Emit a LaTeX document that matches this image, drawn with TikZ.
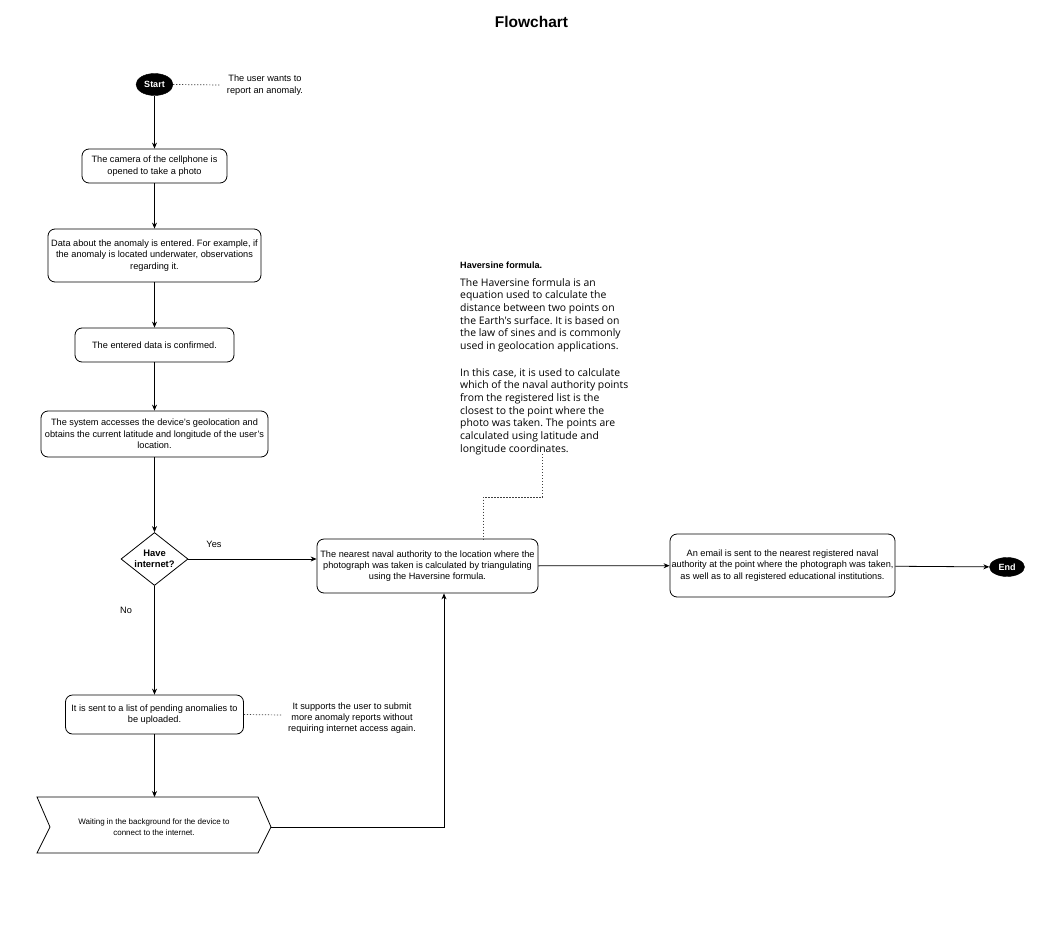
\documentclass[tikz,border=0pt]{standalone}
\usepackage{fontspec}
\setmainfont{Liberation Sans}
\newfontfamily\osans{Open Sans}
\usetikzlibrary{shapes.geometric,arrows.meta,calc}
\frenchspacing
\begin{document}
\begin{tikzpicture}[x=1pt,y=-1pt,
 font=\fontsize{9.2}{11.3}\selectfont,
 proc/.style={draw,rounded corners=7pt,line width=0.8pt,align=center,inner sep=0pt},
 term/.style={ellipse,fill=black,draw=black,text=white,font=\fontsize{9}{10}\selectfont\bfseries,inner sep=0pt},
 dec/.style={diamond,draw,line width=0.8pt,inner sep=0pt},
 note/.style={align=center,inner sep=0pt},
 flow/.style={line width=0.8pt,-{Stealth[length=6pt,width=5pt]}},
 dots/.style={line width=0.7pt,black!75,dash pattern=on 1.2pt off 1.8pt},
]
\useasboundingbox[fill=white] (0,0) rectangle (1064,944);
\node[font=\fontsize{15.5}{18}\selectfont\bfseries] (title) at (531.5,22) {Flowchart};

\node[term,minimum width=37pt,minimum height=22pt] (start) at (154.5,84.5) {Start};
\node[note] (n1) at (265,85) {The user wants to\\report an anomaly.};

\node[proc,minimum width=145pt,minimum height=34pt] (b1) at (154.5,166) {The camera of the cellphone is\\opened to take a photo};
\node[proc,minimum width=213pt,minimum height=53pt] (b2) at (154.5,255.5) {Data about the anomaly is entered. For example, if\\the anomaly is located underwater, observations\\regarding it.};
\node[proc,minimum width=159pt,minimum height=34pt] (b3) at (154.5,345) {The entered data is confirmed.};
\node[proc,minimum width=227pt,minimum height=46pt] (b4) at (154.5,434) {The system accesses the device's geolocation and\\obtains the current latitude and longitude of the user's\\location.};

\node[dec,minimum width=67pt,minimum height=53pt] (dia) at (154.5,559) {};
\node[note,font=\fontsize{9.4}{11.5}\selectfont\bfseries] (diat) at (dia.center) {Have\\internet?};
\node[note] (yes) at (214,544) {Yes};
\node[note] (no) at (126,610) {No};

\node[proc,minimum width=221pt,minimum height=54pt] (b5) at (427.5,566) {The nearest naval authority to the location where the\\photograph was taken is calculated by triangulating\\using the Haversine formula.};
\node[proc,minimum width=225pt,minimum height=63pt] (b6) at (782.5,565.5) {An email is sent to the nearest registered naval\\authority at the point where the photograph was taken,\\as well as to all registered educational institutions.};
\node[term,minimum width=35pt,minimum height=19pt] (end) at (1007,567) {End};

\node[proc,minimum width=178pt,minimum height=39pt] (b7) at (154.5,714.5) {It is sent to a list of pending anomalies to\\be uploaded.};
\node[note] (n2) at (352,718) {It supports the user to submit\\more anomaly reports without\\requiring internet access again.};

% waiting shape
\draw[line width=0.8pt] (37,797) -- (258,797) -- (271,827) -- (258,853) -- (37,853) -- (50,827) -- cycle;
\node[note,font=\fontsize{8}{10.5}\selectfont] (wait) at (154,827) {Waiting in the background for the device to\\connect to the internet.};
\coordinate (wtop) at (154.5,797);
\coordinate (wtip) at (271,827);

% Haversine note
\node[anchor=base west,inner sep=0pt,font=\fontsize{9.1}{11}\selectfont\bfseries] (hvt) at (460,268) {Haversine formula.};
\node[anchor=north west,inner sep=0pt,align=left,font=\osans\fontsize{10.4}{12.7}\selectfont] (hv1) at (460,278) {The Haversine formula is an\\equation used to calculate the\\distance between two points on\\the Earth's surface. It is based on\\the law of sines and is commonly\\used in geolocation applications.};
\node[anchor=north west,inner sep=0pt,align=left,font=\osans\fontsize{10.4}{12.7}\selectfont] (hv2) at (460,368) {In this case, it is used to calculate\\which of the naval authority points\\from the registered list is the\\closest to the point where the\\photo was taken. The points are\\calculated using latitude and\\longitude coordinates.};
\coordinate (hvend) at (542.5,454);

% connectors
\draw[flow] (start) -- (b1);
\draw[flow] (b1) -- (b2);
\draw[flow] (b2) -- (b3);
\draw[flow] (b3) -- (b4);
\draw[flow] (b4) -- (dia.north);
\draw[flow] (dia.east) -- (dia.east -| b5.west);
\draw[flow] (dia.south) -- (b7.north);
\draw[flow] (b7.south) -- (wtop);
\draw[flow] (wtip) -| ($(b5.south)+(16.5,0)$);
\draw[flow] (b5) -- (b6);
\draw[flow] (b6) -- (end);

\draw[dots] (start.east) -- ($(n1.west)+(-6,0)$);
\draw[dots] (b7.east) -- ($(n2.west)+(-5,-3)$);
\draw[dots] (hvend) -- ++(0,43) -| ($(b5.north)+(55.5,0)$);
\end{tikzpicture}
\end{document}
